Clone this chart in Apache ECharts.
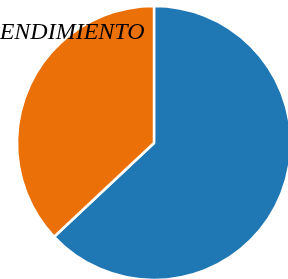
<!DOCTYPE html>
<html>
<head>
<meta charset="utf-8">
<script src="https://cdn.jsdelivr.net/npm/echarts@6/dist/echarts.min.js"></script>
<style>
  html, body { margin: 0; padding: 0; background: #fff; }
  #chart { width: 288px; height: 279px; }
</style>
</head>
<body>
<div id="chart"></div>
<script>
const categories = ["Aprobado", "Reprobado"];
const values = [63, 37];
const colors = ["#1f77b4", "#ec7008"];

const chart = echarts.init(document.getElementById("chart"));
chart.setOption({
  animation: false,
  title: {
    text: "RENDIMIENTO",
    left: -15,
    top: 21,
    padding: 0,
    textStyle: {
      fontFamily: "Liberation Serif",
      fontStyle: "italic",
      fontWeight: "normal",
      fontSize: 24,
      color: "#000",
    },
  },
  series: [
    {
      type: "pie",
      center: [154, 143],
      radius: 137,
      startAngle: 90,
      clockwise: true,
      label: { show: false },
      labelLine: { show: false },
      itemStyle: {
        borderColor: "#fff",
        borderWidth: 2.5,
      },
      data: categories.map((name, i) => ({
        name,
        value: values[i],
        itemStyle: { color: colors[i] },
      })),
    },
  ],
});
</script>
</body>
</html>
